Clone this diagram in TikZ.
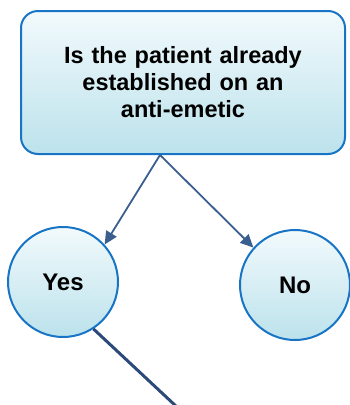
\documentclass[tikz,border=0pt]{standalone}
\usepackage{fontspec}
\setmainfont{Liberation Sans}
\usetikzlibrary{arrows.meta}
\definecolor{bordblue}{RGB}{24,116,196}
\definecolor{filltop}{RGB}{242,250,252}
\definecolor{fillbot}{RGB}{188,226,236}
\definecolor{arrowblue}{RGB}{58,95,142}
\definecolor{darkline}{RGB}{43,74,122}
\tikzset{
  qbox/.style={draw=bordblue, line width=2pt, rounded corners=17pt,
    top color=filltop, bottom color=fillbot, minimum width=324pt,
    minimum height=143pt, text width=300pt, align=center, inner sep=0pt,
    font=\fontsize{23.5}{27}\selectfont\bfseries},
  ans/.style={circle, draw=bordblue, line width=2pt, top color=filltop,
    bottom color=fillbot, minimum size=110pt, inner sep=0pt,
    font=\fontsize{24}{28}\selectfont\bfseries},
  arr/.style={draw=arrowblue, line width=1.8pt,
    -{Triangle[length=13pt,width=12pt]}},
  thick line/.style={draw=darkline, line width=3pt}
}
\begin{document}
\begin{tikzpicture}[x=1pt,y=1pt]
\useasboundingbox (0,0) rectangle (350,-405);
\clip (0,0) rectangle (350,-405);
\node[qbox] (q) at (183,-82.5) {Is the patient already\\established on an\\anti-emetic};
\node[ans] (yes) at (63,-282) {Yes};
\node[ans] (no) at (295,-285) {No};
\coordinate (split) at (160,-155);
\coordinate (down) at (178,-408);
\draw[arr] (split) -- (yes.42);
\draw[arr] (split) -- (no.138);
\draw[thick line] (yes.-57) -- (down);
\end{tikzpicture}
\end{document}
